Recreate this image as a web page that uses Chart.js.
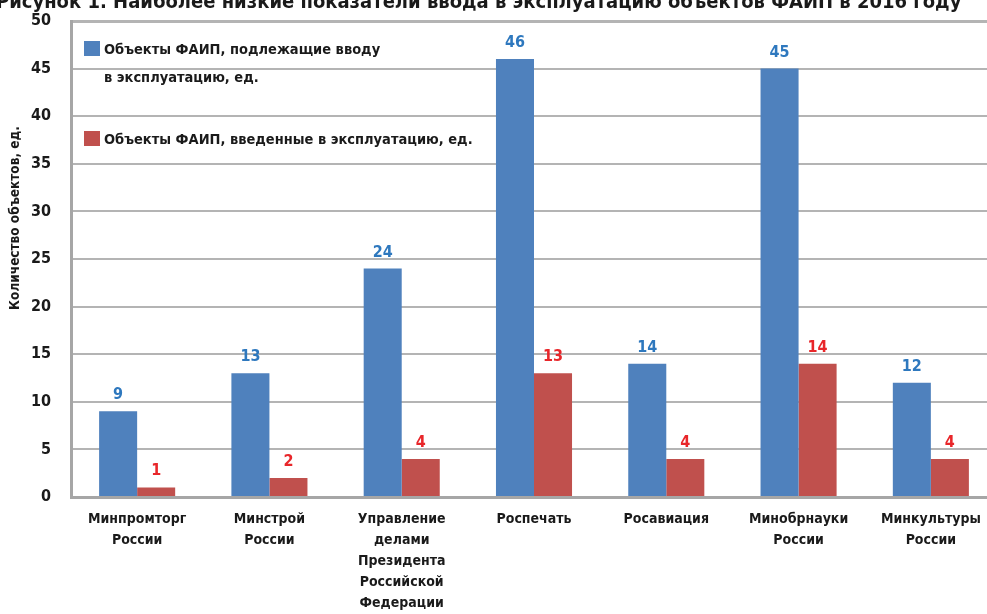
<!DOCTYPE html>
<html lang="ru">
<head>
<meta charset="utf-8">
<script src="https://cdn.jsdelivr.net/npm/chart.js@4"></script>
<style>
    html, body { margin: 0; padding: 0; background: #fff; overflow: hidden; }
    #wrap { position: relative; width: 1000px; height: 614px; }
    #title {
        position: absolute; left: -4px; top: -9px; white-space: nowrap;
        font: bold 20px/20px 'Liberation Sans Narrow', 'DejaVu Sans Condensed', sans-serif;
        color: #1a1a1a;
    }
</style>
</head>
<body>
<div id="wrap">
    <div id="title">Рисунок 1. Наиболее низкие показатели ввода в эксплуатацию объектов ФАИП в 2016 году</div>
    <canvas id="chart" width="1000" height="614"></canvas>
</div>
<script>
// Ведомства (подписи по оси X)
const categories = [
    ['Минпромторг', 'России'],
    ['Минстрой', 'России'],
    ['Управление', 'делами', 'Президента', 'Российской', 'Федерации'],
    ['Роспечать'],
    ['Росавиация'],
    ['Минобрнауки', 'России'],
    ['Минкультуры', 'России']
];
// Объекты, подлежащие вводу
const planned = [9, 13, 24, 46, 14, 45, 12];
// Объекты, введенные в эксплуатацию
const commissioned = [1, 2, 4, 13, 4, 14, 4];
const yTicks = [0, 5, 10, 15, 20, 25, 30, 35, 40, 45, 50];
const yTitle = 'Количество объектов, ед.';

const FONT = "'Liberation Sans Narrow', 'DejaVu Sans Condensed', sans-serif";
const labelColors = ['#2E78BE', '#E8262A'];

// подписи значений над столбцами
const valueLabels = {
    id: 'valueLabels',
    afterDatasetsDraw(chart) {
        const ctx = chart.ctx;
        ctx.save();
        ctx.font = 'bold 16px ' + FONT;
        ctx.textAlign = 'center';
        ctx.textBaseline = 'alphabetic';
        chart.data.datasets.forEach((ds, di) => {
            ctx.fillStyle = labelColors[di];
            chart.getDatasetMeta(di).data.forEach((bar, i) => {
                ctx.fillText(ds.data[i], bar.x, bar.y - 12);
            });
        });
        ctx.restore();
    }
};

// легенда внутри области графика + подпись оси Y
const innerLegend = {
    id: 'innerLegend',
    afterDraw(chart) {
        const ctx = chart.ctx;
        const items = [
            { lines: ['Объекты ФАИП, подлежащие вводу', 'в эксплуатацию, ед.'], y: 54 },
            { lines: ['Объекты ФАИП, введенные в эксплуатацию, ед.'], y: 144 }
        ];
        ctx.save();
        ctx.font = 'bold 14.5px ' + FONT;
        ctx.textBaseline = 'alphabetic';
        items.forEach((it, i) => {
            ctx.fillStyle = chart.data.datasets[i].backgroundColor;
            ctx.fillRect(84, it.y - 13, 16, 15);
            ctx.fillStyle = '#1a1a1a';
            it.lines.forEach((line, li) => ctx.fillText(line, 104, it.y + li * 28));
        });

        // подпись оси Y (повернутая)
        ctx.translate(15, 218);
        ctx.rotate(-Math.PI / 2);
        ctx.font = 'bold 13.5px ' + FONT;
        ctx.textAlign = 'center';
        ctx.textBaseline = 'middle';
        ctx.fillText(yTitle, 0, 0);
        ctx.restore();
    }
};

new Chart(document.getElementById('chart'), {
    type: 'bar',
    data: {
        labels: categories,
        datasets: [
            { label: 'Объекты ФАИП, подлежащие вводу в эксплуатацию, ед.', data: planned, backgroundColor: '#4F81BD' },
            { label: 'Объекты ФАИП, введенные в эксплуатацию, ед.', data: commissioned, backgroundColor: '#C0504D' }
        ]
    },
    options: {
        responsive: false,
        animation: false,
        categoryPercentage: 0.575,
        barPercentage: 1.0,
        layout: { padding: { top: 21, right: 3, left: 0, bottom: 0 } },
        plugins: {
            legend: { display: false },
            tooltip: { enabled: false }
        },
        scales: {
            x: {
                grid: { display: false },
                border: { color: '#A6A6A6', width: 3 },
                ticks: {
                    color: '#1a1a1a',
                    font: { family: FONT, size: 14, weight: 'bold', lineHeight: 1.5 },
                    padding: 4,
                    maxRotation: 0,
                    autoSkip: false
                },
                afterFit(s) { s.height = 117; s.paddingLeft = 0; s.paddingRight = 0; }
            },
            y: {
                min: 0,
                max: 50,
                afterBuildTicks(s) { s.ticks = yTicks.map(v => ({ value: v })); },
                grid: {
                    color: '#B4B4B4',
                    lineWidth: c => (c.tick && c.tick.value === 50 ? 3 : 2),
                    drawTicks: false
                },
                border: { color: '#A6A6A6', width: 3 },
                ticks: {
                    color: '#1a1a1a',
                    font: { family: FONT, size: 16, weight: 'bold' },
                    padding: 20
                },
                afterFit(s) { s.width = 71; s.paddingTop = 0; s.paddingBottom = 0; }
            }
        }
    },
    plugins: [valueLabels, innerLegend]
});
</script>
</body>
</html>
